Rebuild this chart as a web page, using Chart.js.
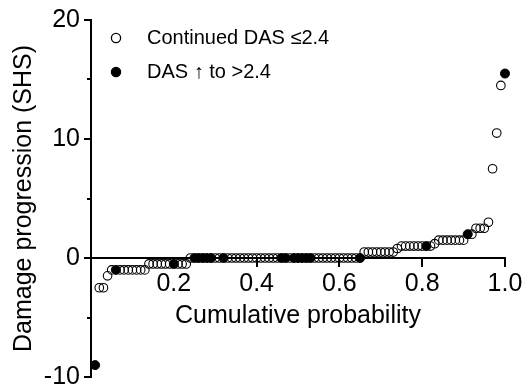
<!DOCTYPE html>
<html><head><meta charset="utf-8">
<script src="https://cdn.jsdelivr.net/npm/chart.js@4/dist/chart.umd.min.js"></script>
<style>html,body{margin:0;padding:0;background:#fff}#wrap{width:523px;height:385px;position:relative}</style>
</head><body><div id="wrap"><canvas id="c"></canvas></div>
<script>
// Cumulative probability (x) and damage progression SHS (y)
const openProb = [0.02,0.03,0.04,0.05,
  0.07,0.08,0.09,0.10,0.11,0.12,0.13,
  0.14,0.15,0.16,0.17,0.18,0.19,0.21,0.22,0.23,
  0.24,0.30,0.31,0.33,0.34,0.35,0.36,0.37,0.38,0.39,0.40,0.41,0.42,0.43,0.44,0.45,0.48,
  0.54,0.55,0.56,0.57,0.58,0.59,0.60,0.61,0.62,0.63,0.64,
  0.66,0.67,0.68,0.69,0.70,0.71,0.72,0.73,0.74,
  0.75,0.76,0.77,0.78,0.79,0.80,0.82,0.83,
  0.84,0.85,0.86,0.87,0.88,0.89,0.90,
  0.92,0.93,0.94,0.95,0.96,0.97,0.98,0.99];
const openDamage = [-2.5,-2.5,-1.5,-1,
  -1,-1,-1,-1,-1,-1,-1,
  -0.5,-0.5,-0.5,-0.5,-0.5,-0.5,-0.5,-0.5,-0.5,
  0,0,0,0,0,0,0,0,0,0,0,0,0,0,0,0,0,
  0,0,0,0,0,0,0,0,0,0,0,
  0.5,0.5,0.5,0.5,0.5,0.5,0.5,0.5,0.8,
  1,1,1,1,1,1,1,1.2,
  1.5,1.5,1.5,1.5,1.5,1.5,1.5,
  2,2.5,2.5,2.5,3,7.5,10.5,14.5];
const filledProb = [0.01,0.06,0.20,0.25,0.26,0.27,0.28,0.29,0.32,0.46,0.47,0.49,0.50,0.51,0.52,0.53,0.65,0.81,0.91,1.00];
const filledDamage = [-9,-1,-0.5,0,0,0,0,0,0,0,0,0,0,0,0,0,0,1,2,15.5];
const xTickValues = [0.2,0.4,0.6,0.8,1.0];
const yTickValues = [-10,0,10,20];
const yMinorTickValues = [-5,5,15];
const seriesNames = ['Continued DAS \u22642.4','DAS \u2191 to >2.4'];
const xTitle = 'Cumulative probability';
const yTitle = 'Damage progression (SHS)';

const FONT = "Arial, 'Liberation Sans', Helvetica, sans-serif";

function legendIcon(filled){
  const c=document.createElement('canvas'); c.width=30; c.height=14;
  const g=c.getContext('2d'); g.beginPath(); g.arc(10,7,4.6,0,Math.PI*2);
  if(filled){g.fillStyle='#000';g.fill();}
  g.lineWidth=1.3; g.strokeStyle='#000'; g.stroke(); return c;
}
const icons=[legendIcon(false),legendIcon(true)];

const minorTicks = {
  id:'minorTicks',
  afterDraw(chart){
    const y=chart.scales.y, ctx=chart.ctx, x0=chart.chartArea.left;
    ctx.save(); ctx.strokeStyle='#000'; ctx.lineWidth=2;
    yMinorTickValues.forEach(v=>{const p=Math.round(y.getPixelForValue(v));
      ctx.beginPath(); ctx.moveTo(x0-4,p); ctx.lineTo(x0,p); ctx.stroke();});
    ctx.restore();
  }
};

new Chart(document.getElementById('c'),{
  type:'scatter',
  data:{datasets:[
    {label:seriesNames[0], data:openProb.map((p,i)=>({x:p,y:openDamage[i]})),
     pointStyle:'circle', pointRadius:4.3, pointBorderWidth:1.1, borderColor:'#000', backgroundColor:'rgba(0,0,0,0)', clip:false},
    {label:seriesNames[1], data:filledProb.map((p,i)=>({x:p,y:filledDamage[i]})),
     pointStyle:'circle', pointRadius:4.5, pointBorderWidth:1, borderColor:'#000', backgroundColor:'#000', clip:false}
  ]},
  options:{
    responsive:true, maintainAspectRatio:false, animation:false, devicePixelRatio:1,
    layout:{padding:{left:0,right:18,top:20,bottom:8}},
    plugins:{
      tooltip:{enabled:false},
      legend:{position:'chartArea', align:'start',
        title:{display:true, text:'', font:{size:10, lineHeight:1}, padding:{top:2,bottom:2}},
        labels:{usePointStyle:true, pointStyleWidth:32, padding:14, color:'#000',
          font:{family:FONT,size:20},
          generateLabels:(chart)=>chart.data.datasets.map((d,i)=>({text:d.label, pointStyle:icons[i], fillStyle:'#000', strokeStyle:'#000', lineWidth:1, hidden:false, datasetIndex:i, fontColor:'#000'}))}}
    },
    scales:{
      x:{type:'linear', position:{y:0}, min:0, max:1,
        afterBuildTicks:s=>{s.ticks=xTickValues.map(v=>({value:v}));},
        afterFit:s=>{s.height=0; s.paddingLeft=0; s.paddingRight=0;},
        ticks:{callback:v=>Number(v).toFixed(1), color:'#000', font:{family:FONT,size:25}, padding:3, maxRotation:0, autoSkip:false},
        grid:{drawOnChartArea:false, tickLength:8, color:'#000', lineWidth:2},
        border:{color:'#000', width:2},
        title:{display:true, text:xTitle, color:'#000', font:{family:FONT,size:25}, padding:{top:0,bottom:-73}}
      },
      y:{type:'linear', position:'left', min:-10, max:20,
        afterBuildTicks:s=>{s.ticks=yTickValues.map(v=>({value:v}));},
        afterFit:s=>{s.width=91; s.paddingTop=0; s.paddingBottom=0;},
        ticks:{color:'#000', font:{family:FONT,size:25}, padding:4},
        grid:{drawOnChartArea:false, tickLength:7, color:'#000', lineWidth:2},
        border:{color:'#000', width:2},
        title:{display:true, text:yTitle, color:'#000', font:{family:FONT,size:25}, padding:{top:9,bottom:0}}
      }
    }
  },
  plugins:[minorTicks]
});
</script></body></html>
